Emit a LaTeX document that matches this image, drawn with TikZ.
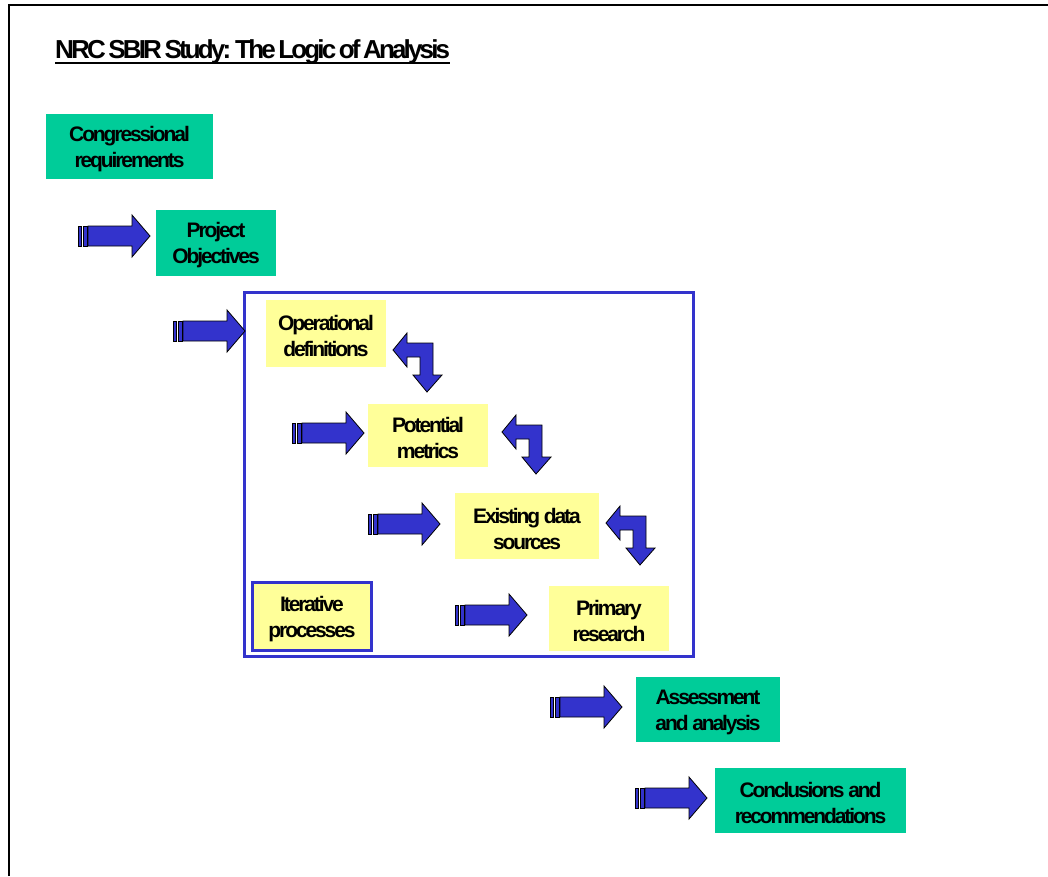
\documentclass[tikz,border=0pt]{standalone}
\usepackage{fontspec}
\setmainfont{Liberation Sans}
\newfontfamily\lblfont{Liberation Sans}[LetterSpace=-10]
\newfontfamily\ttlfont{Liberation Sans}[LetterSpace=-11, WordSpace=0.6]
\definecolor{sbgreen}{HTML}{00CC99}
\definecolor{sbyellow}{HTML}{FFFF99}
\definecolor{sbblue}{HTML}{3333CC}
\newcommand\sarrow[2]{%
 \begin{scope}[shift={(#1,#2)}]
  \draw[arr] (-72,-10) rectangle (-69,10);
  \draw[arr] (-67,-10) rectangle (-63,10);
  \draw[arr] (-62,-10) -- (-18,-10) -- (-18,-21) -- (0,0) -- (-18,21) -- (-18,10) -- (-62,10) -- cycle;
 \end{scope}}
\newcommand\bentarrow[2]{%
 \begin{scope}[shift={(#1,#2)}]
  \draw[arr] (0,0) -- (14,-17) -- (14,-7) -- (40,-7) -- (40,25) -- (49,25) -- (34,42) -- (20,25) -- (27,25) -- (27,7) -- (14,7) -- (14,17) -- cycle;
 \end{scope}}
\begin{document}
\begin{tikzpicture}[x=1pt,y=-1pt,
  lbl/.style={font=\lblfont\bfseries\fontsize{21}{26}\selectfont, align=center, inner sep=0pt, text=black},
  gbox/.style={fill=sbgreen, inner sep=0pt},
  ybox/.style={fill=sbyellow, inner sep=0pt},
  arr/.style={fill=sbblue, draw=black, line width=0.8pt, line join=miter}]
\useasboundingbox (0,0) rectangle (1048,876);
% page frame
\draw[line width=2.5pt] (9,876) -- (9,5) -- (1048,5);
% title
\node[anchor=base west, inner sep=0pt, font=\ttlfont\bfseries\fontsize{26}{30}\selectfont] (title) at (55,58) {NRC SBIR Study: The Logic of Analysis};
\draw[line width=2.5pt] ([yshift=-5pt]title.base west) -- ([yshift=-5pt]title.base east);
% iterative frame
\draw[sbblue, line width=3pt] (244.5,292.5) rectangle (693.5,656.5);
% boxes
\node[gbox, minimum width=167pt, minimum height=65pt] (cr) at (129.5,146.5) {};
\node[gbox, minimum width=120pt, minimum height=66pt] (po) at (216,243) {};
\node[ybox, minimum width=120pt, minimum height=67pt] (od) at (326,333.5) {};
\node[ybox, minimum width=120pt, minimum height=63pt] (pm) at (428,435.5) {};
\node[ybox, minimum width=144pt, minimum height=66pt] (ed) at (527,526) {};
\node[ybox, draw=sbblue, line width=3pt, minimum width=119pt, minimum height=68pt] (ip) at (312,616.5) {};
\node[ybox, minimum width=120pt, minimum height=65pt] (pr) at (609,618.5) {};
\node[gbox, minimum width=144pt, minimum height=65pt] (aa) at (708,709.5) {};
\node[gbox, minimum width=191pt, minimum height=65pt] (cc) at (810.5,800.5) {};
% labels
\node[lbl] (crt) at ([yshift=-2.5pt]cr.center) {Congressional\\requirements};
\node[lbl] (pot) at ([yshift=-2.5pt]po.center) {Project\\Objectives};
\node[lbl] (odt) at ([yshift=-2.5pt]od.center) {Operational\\definitions};
\node[lbl] (pmt) at ([yshift=-2.5pt]pm.center) {Potential\\metrics};
\node[lbl] (edt) at ([yshift=-2.5pt]ed.center) {Existing data\\sources};
\node[lbl] (ipt) at ([yshift=-2.5pt]ip.center) {Iterative\\processes};
\node[lbl] (prt) at ([yshift=-2.5pt]pr.center) {Primary\\research};
\node[lbl] (aat) at ([yshift=-2.5pt]aa.center) {Assessment\\and analysis};
\node[lbl] (cct) at ([yshift=-2.5pt]cc.center) {Conclusions and\\recommendations};
% striped arrows
\sarrow{150}{236}
\sarrow{245}{331}
\sarrow{364}{433}
\sarrow{440}{524}
\sarrow{527}{615}
\sarrow{622}{707}
\sarrow{707}{798}
% bent arrows
\bentarrow{393}{350}
\bentarrow{502}{432}
\bentarrow{606}{523}
\end{tikzpicture}
\end{document}
